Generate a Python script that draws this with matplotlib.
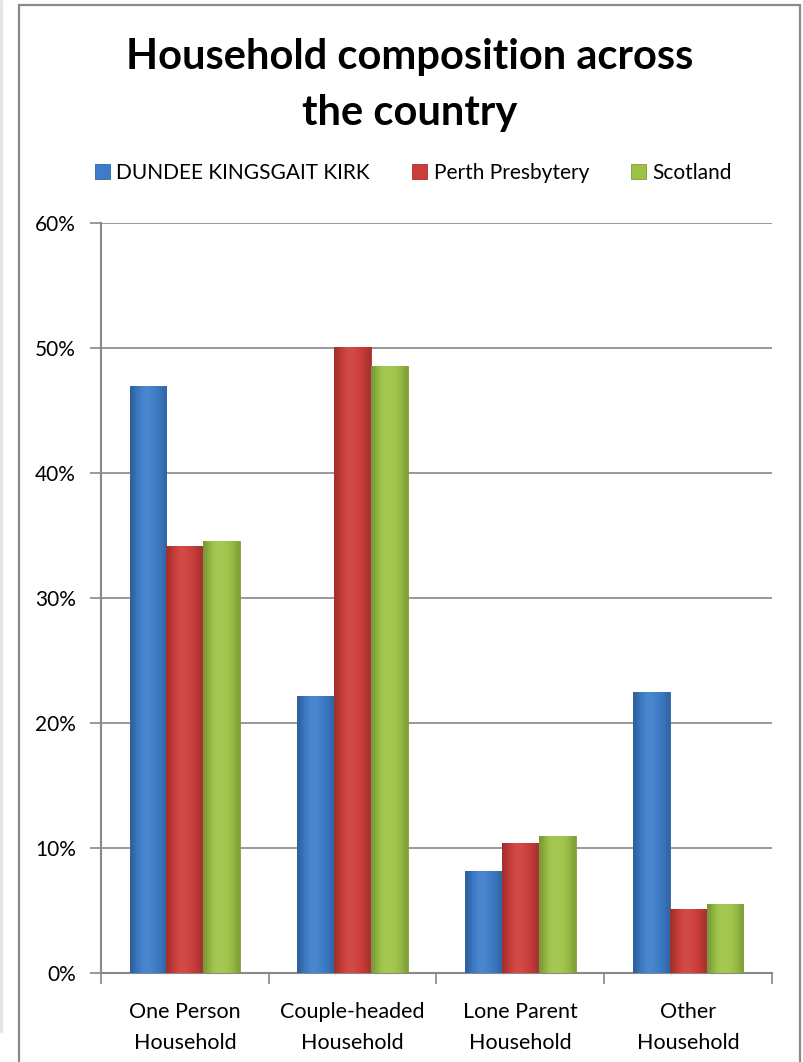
import matplotlib.pyplot as plt
import matplotlib.patches as mpatches
import matplotlib.colors as mcolors
import numpy as np
from matplotlib.ticker import FuncFormatter

categories = ['One Person\nHousehold', 'Couple-headed\nHousehold',
              'Lone Parent\nHousehold', 'Other\nHousehold']
series = ['DUNDEE KINGSGAIT KIRK', 'Perth Presbytery', 'Scotland']
dundee = [0.470, 0.222, 0.082, 0.225]
perth = [0.342, 0.501, 0.104, 0.051]
scotland = [0.346, 0.486, 0.110, 0.055]
colors = ['#3D7CC9', '#CC3D3A', '#9DC346']

plt.rcParams['font.family'] = ['Lato', 'DejaVu Sans']

fig = plt.figure(figsize=(8.04, 10.62), dpi=100)
ax = fig.add_axes([101/804, 89/1062, 671/804, 750/1062])

x = np.arange(len(categories))
width = 0.22
values = [dundee, perth, scotland]


def shade(c, f):
    r, g, b = mcolors.to_rgb(c)
    if f < 1:
        return (r*f, g*f, b*f)
    return (r + (1-r)*(f-1), g + (1-g)*(f-1), b + (1-b)*(f-1))


handles = []
for i, (vals, col) in enumerate(zip(values, colors)):
    bars = ax.bar(x + (i-1)*width, vals, width, color=col,
                  edgecolor=shade(col, 0.8), linewidth=0.6, zorder=3, label=series[i])
    # horizontal gradient to mimic the bevelled Excel bars
    prof = np.array([0.78, 0.9, 1.0, 1.06, 1.08, 1.06, 1.02, 0.98, 0.92, 0.82])
    grad = np.array([[shade(col, f) for f in prof]])
    for b in bars:
        x0 = b.get_x()
        im = ax.imshow(grad, extent=(x0, x0 + b.get_width(), 0, b.get_height()),
                       aspect='auto', zorder=3.5, interpolation='bicubic')
        im.set_clip_path(b)
    handles.append(bars)

ax.set_xlim(-0.5, len(categories) - 0.5)
ax.set_ylim(0, 0.6)
ax.set_yticks(np.arange(0, 0.61, 0.1))
ax.yaxis.set_major_formatter(FuncFormatter(lambda v, p: '{:.0f}%'.format(v*100)))
ax.set_xticks(x)
ax.set_xticklabels(categories, fontsize=15.5, linespacing=1.7)
ax.set_xticks(np.arange(-0.5, len(categories)), minor=True)
ax.tick_params(axis='x', which='major', length=0, pad=21)
ax.tick_params(axis='x', which='minor', length=8, color='#888888', width=1.2)
ax.tick_params(axis='y', length=8, color='#888888', width=1.2, labelsize=15, pad=10)
ax.grid(axis='y', color='#888888', linewidth=1.2, zorder=0)
ax.set_axisbelow(True)
for s in ['top', 'right']:
    ax.spines[s].set_visible(False)
for s in ['left', 'bottom']:
    ax.spines[s].set_color('#888888')
    ax.spines[s].set_linewidth(1.5)

fig.text(0.51, 1 - 85/1062, 'Household composition across\nthe country', ha='center',
         va='center', fontsize=30, fontweight='bold', linespacing=1.55)

leg = fig.legend(handles=handles, labels=series, loc='center',
                 bbox_to_anchor=(0.514, 1 - 173/1062), ncol=3, frameon=False,
                 fontsize=15, handlelength=0.75, handleheight=0.75, handletextpad=0.3,
                 columnspacing=2.0)

# outer chart frame
fig.patches.append(mpatches.Rectangle((19/804, -0.02), 781/804, 1.02 - 5/1062,
                                      transform=fig.transFigure, fill=False,
                                      edgecolor='#8a8a8a', linewidth=1.6))
fig.patches.append(mpatches.Rectangle((0, 30/1062), 2/804, 1 - 30/1062,
                                      transform=fig.transFigure, color='#e6e6e6'))

fig.savefig('out.png', dpi=100)
